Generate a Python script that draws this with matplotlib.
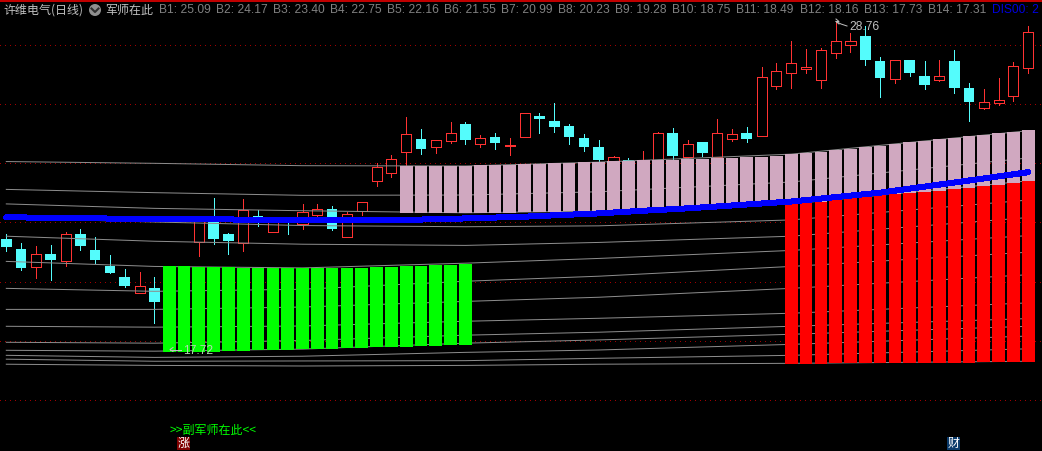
import matplotlib
matplotlib.use("Agg")
import matplotlib.pyplot as plt
import numpy as np
from matplotlib.patches import Circle, Rectangle

plt.rcParams["font.family"] = ["Noto Sans CJK SC", "DejaVu Sans"]

# daily candles, left to right
opens = [21.43, 21.10, 20.50, 20.93, 20.70, 21.60, 21.07, 20.52, 20.15, 19.62,
         19.78, 19.30, 18.90, 21.32, 22.08, 21.60, 21.29, 22.21, 21.68, 22.14,
         21.95, 22.26, 22.45, 21.51, 22.39, 23.40, 23.67, 24.38, 24.80, 24.55,
         24.75, 25.32, 24.65, 24.88, 24.58, 24.89, 25.59, 25.42, 25.25, 24.84,
         24.54, 23.90, 24.10, 23.76, 24.03, 25.01, 24.20, 24.71, 24.20, 24.81,
         25.01, 24.92, 26.61, 27.05, 27.18, 26.81, 27.72, 28.00, 28.29, 27.44,
         26.85, 27.48, 26.94, 26.81, 27.44, 26.53, 25.87, 26.04, 26.27, 27.20]
closes = [21.18, 20.47, 20.92, 20.74, 21.59, 21.21, 20.73, 20.29, 19.85, 19.84,
          19.31, 18.40, 19.90, 22.11, 21.44, 21.37, 22.41, 22.01, 22.08, 21.98,
          22.35, 22.44, 21.77, 22.28, 22.67, 23.86, 24.13, 24.97, 24.47, 24.77,
          25.00, 24.78, 24.83, 24.68, 24.60, 25.68, 25.49, 25.22, 24.88, 24.54,
          24.10, 24.19, 23.93, 24.03, 25.00, 24.24, 24.64, 24.34, 25.01, 24.98,
          24.81, 26.89, 27.10, 27.37, 27.24, 27.80, 28.11, 28.11, 27.48, 26.87,
          27.47, 27.04, 26.63, 26.93, 26.53, 26.06, 26.07, 26.12, 27.26, 28.41]
highs = [21.60, 21.29, 21.20, 21.23, 21.67, 21.77, 21.50, 20.90, 20.42, 20.32,
         20.15, 19.60, 20.00, 22.11, 22.82, 21.63, 22.78, 22.41, 22.14, 22.18,
         22.62, 22.62, 22.55, 22.36, 22.68, 24.01, 24.27, 25.54, 25.15, 24.78,
         25.38, 25.38, 24.95, 25.01, 24.84, 25.68, 25.69, 26.03, 25.32, 24.98,
         24.78, 24.24, 24.17, 24.41, 25.05, 25.18, 24.78, 24.71, 25.49, 25.14,
         25.22, 27.24, 27.38, 28.12, 27.85, 27.88, 28.76, 28.39, 28.62, 27.58,
         27.48, 27.48, 27.44, 27.48, 27.81, 26.70, 26.50, 26.87, 27.41, 28.62]
lows = [21.03, 20.39, 20.13, 20.05, 20.52, 21.07, 20.63, 20.29, 19.82, 19.62,
        18.60, 17.72, 18.60, 20.86, 21.27, 20.93, 21.03, 21.88, 21.67, 21.60,
        21.77, 22.14, 21.74, 21.51, 22.25, 23.23, 23.54, 23.90, 24.30, 24.34,
        24.68, 24.64, 24.54, 24.47, 24.27, 24.89, 25.01, 25.05, 24.64, 24.41,
        24.03, 23.90, 23.76, 23.70, 24.00, 24.10, 24.14, 24.24, 24.14, 24.74,
        24.71, 24.92, 26.50, 26.53, 27.04, 26.53, 27.54, 27.75, 27.31, 26.23,
        26.71, 26.94, 26.50, 26.77, 26.36, 25.42, 25.82, 25.97, 26.09, 27.04]

# the 14 stepped support lines, read at a few bars
line_bars = [0, 10, 20, 31, 40, 53, 69]
b1 = [24.05, 23.99, 23.91, 23.90, 24.03, 24.30, 25.09]
b2 = [23.11, 23.00, 22.91, 22.92, 23.03, 23.36, 24.17]
b3 = [22.62, 22.47, 22.39, 22.32, 22.38, 22.62, 23.40]
b4 = [22.14, 22.01, 21.89, 21.85, 21.88, 22.08, 22.75]
b5 = [21.53, 21.36, 21.26, 21.22, 21.32, 21.53, 22.16]
b6 = [20.68, 20.51, 20.46, 20.62, 20.78, 21.05, 21.55]
b7 = [19.77, 19.67, 19.74, 20.01, 20.18, 20.51, 20.99]
b8 = [19.06, 19.06, 19.14, 19.33, 19.47, 19.77, 20.23]
b9 = [18.49, 18.46, 18.50, 18.66, 18.76, 18.93, 19.28]
b10 = [17.95, 17.92, 18.01, 18.19, 18.29, 18.49, 18.75]
b11 = [17.68, 17.65, 17.72, 17.92, 18.03, 18.22, 18.49]
b12 = [17.51, 17.44, 17.48, 17.61, 17.69, 17.88, 18.16]
b13 = [17.38, 17.31, 17.32, 17.33, 17.41, 17.51, 17.73]
b14 = [17.21, 17.17, 17.15, 17.17, 17.21, 17.24, 17.31]
support_lines = [b1, b2, b3, b4, b5, b6, b7, b8, b9, b10, b11, b12, b13, b14]

# thick blue line
blue_bars = [0, 8, 10, 20, 27, 31, 35, 40, 43, 46, 50, 53, 59, 64, 69]
blue_vals = [22.17, 22.12, 22.11, 22.08, 22.08, 22.13, 22.19, 22.30, 22.39,
             22.47, 22.60, 22.70, 23.00, 23.34, 23.69]

# green block, bars 11..31
green_top = [20.53, 20.53, 20.49, 20.49, 20.49, 20.46, 20.46, 20.46, 20.46, 20.46,
             20.46, 20.46, 20.46, 20.46, 20.49, 20.49, 20.53, 20.53, 20.56, 20.56, 20.59]
green_bottom = [17.63, 17.63, 17.63, 17.63, 17.67, 17.67, 17.70, 17.70, 17.70, 17.73,
                17.73, 17.73, 17.77, 17.77, 17.80, 17.80, 17.80, 17.83, 17.83, 17.87, 17.87]

# pink block, bars 27..69
pink_top = [23.90, 23.90, 23.90, 23.90, 23.90, 23.93, 23.93, 23.93, 23.97, 23.97,
            24.00, 24.00, 24.03, 24.03, 24.07, 24.07, 24.10, 24.10, 24.10, 24.14,
            24.14, 24.17, 24.17, 24.20, 24.20, 24.24, 24.30, 24.34, 24.37, 24.44,
            24.47, 24.54, 24.57, 24.64, 24.71, 24.74, 24.81, 24.84, 24.91, 24.95,
            25.01, 25.04, 25.11]
pink_bottom = [22.31, 22.31, 22.31, 22.31, 22.31, 22.31, 22.31, 22.31, 22.35, 22.35,
               22.35, 22.38, 22.38, 22.38, 22.38, 22.41, 22.41, 22.45, 22.45, 22.48,
               22.48, 22.52, 22.52, 22.55, 22.58, 22.58, 22.62, 22.65, 22.68, 22.75,
               22.82, 22.85, 22.92, 22.95, 22.99, 23.02, 23.06, 23.12, 23.16, 23.22,
               23.26, 23.33, 23.39]

# red block, bars 53..69
red_top = [22.62, 22.65, 22.68, 22.75, 22.82, 22.85, 22.92, 22.95, 22.99, 23.02,
           23.06, 23.12, 23.16, 23.22, 23.26, 23.33, 23.39]
red_bottom = [17.22, 17.22, 17.22, 17.25, 17.25, 17.25, 17.25, 17.25, 17.25, 17.25,
              17.25, 17.25, 17.25, 17.28, 17.28, 17.28, 17.28]

grid_prices = [28, 26, 24, 22, 20, 18, 16]

stock_title = "许维电气(日线)"
indicator_name = "军师在此"
level_names = ["B1", "B2", "B3", "B4", "B5", "B6", "B7", "B8", "B9", "B10", "B11", "B12", "B13", "B14"]
level_values = ["25.09", "24.17", "23.40", "22.75", "22.16", "21.55", "20.99",
                "20.23", "19.28", "18.75", "18.49", "18.16", "17.73", "17.31"]
level_x = [159, 216, 273, 330, 387, 444, 501, 558, 615, 672, 736, 800, 864, 928]

W, H = 1042, 451
PX = 0.72  # one pixel in points at dpi 100
RED = "#ff3232"
CYAN = "#54fcfc"
GREY = "#8c8c8c"

fig = plt.figure(figsize=(W / 100, H / 100), dpi=100, facecolor="black")
ax = fig.add_axes([0, 0, 1, 1], facecolor="black")
ax.set_xlim(-0.425, 69.93)
ax.set_ylim(14.281, 29.502)
ax.axis("off")

for p in grid_prices:
    ax.axhline(p, color="#a00000", lw=PX, dashes=(1, 4.5), zorder=1, antialiased=False)

# candles: wick first, then the body over it
opens_a, closes_a = np.array(opens), np.array(closes)
bars = np.arange(len(opens))
up = closes_a >= opens_a
colors = [RED if u else CYAN for u in up]
ax.vlines(bars, lows, highs, colors=colors, lw=PX, zorder=2, antialiased=False)
ax.bar(bars[up], (closes_a - opens_a)[up], bottom=opens_a[up], width=0.68,
       facecolor="black", edgecolor=RED, linewidth=PX, zorder=3, antialiased=False)
ax.bar(bars[~up], (opens_a - closes_a)[~up], bottom=closes_a[~up], width=0.72,
       facecolor=CYAN, edgecolor="none", linewidth=0, zorder=3, antialiased=False)

for vals in support_lines:
    ax.plot(line_bars, vals, color=GREY, lw=PX, zorder=4)


def block(first, tops, bottoms, color):
    xs = np.arange(first, first + len(tops))
    ax.bar(xs, np.array(tops) - np.array(bottoms), bottom=bottoms, width=0.86,
           color=color, linewidth=0, zorder=5, antialiased=False)


block(11, green_top, green_bottom, "#00ff00")
block(27, pink_top, pink_bottom, "#d0a8c0")
block(53, red_top, red_bottom, "#ff0000")

ax.plot(blue_bars, blue_vals, color="#0000ff", lw=5 * PX, zorder=6,
        solid_capstyle="round", antialiased=False)

# overlay in pixel coordinates for the header and the small marks
ov = fig.add_axes([0, 0, 1, 1])
ov.set_xlim(0, W)
ov.set_ylim(H, 0)
ov.axis("off")
ov.patch.set_alpha(0)

ov.add_patch(Rectangle((0, 0), W, 1.5, color="#c00000", lw=0))

FS = 12 * PX
ov.text(3, 10, stock_title, color="#c0c0c0", fontsize=FS, va="center")
ov.add_patch(Circle((95, 10), 6, color="#909090", lw=0))
ov.plot([91.5, 95, 98.5], [8.5, 12, 8.5], color="#303030", lw=1.5)
ov.text(105, 10, indicator_name, color="#c0c0c0", fontsize=FS, va="center")

for x, name, val in zip(level_x, level_names, level_values):
    ov.text(x, 10, f"{name}: {val}", color="#808080", fontsize=FS, va="center",
            family="Liberation Sans")
ov.text(991.5, 10, "DIS00: 2", color="#0000e0", fontsize=FS, va="center",
        family="Liberation Sans")

# high and low markers
ov.plot([836, 841, 847], [21.5, 24, 26], color="#c0c0c0", lw=PX)
ov.plot([836, 839, 836, 839], [19, 21.5, 21.5, 24], color="#c0c0c0", lw=PX)
ov.text(849.5, 27, "28.76", color="#c0c0c0", fontsize=FS, va="center", family="Liberation Sans")
ov.plot([170, 181], [349.5, 349.5], color="#c0c0c0", lw=PX)
ov.plot([173, 170, 173], [347.5, 349.5, 351.5], color="#c0c0c0", lw=PX)
ov.text(183, 350.5, "17.72", color="#b0d8b0", fontsize=FS, va="center", family="Liberation Sans")

ov.text(170, 430, ">>副军师在此<<", color="#00ff00", fontsize=FS, va="center")
ov.add_patch(Rectangle((177, 437), 13, 13, color="#800000", lw=0))
ov.text(183.5, 443.5, "涨", color="white", fontsize=FS, ha="center", va="center")
ov.add_patch(Rectangle((947, 437), 13, 13, color="#0a3a6a", lw=0))
ov.text(953.5, 443.5, "财", color="white", fontsize=FS, ha="center", va="center")

fig.savefig("out.png", dpi=100, facecolor="black")
